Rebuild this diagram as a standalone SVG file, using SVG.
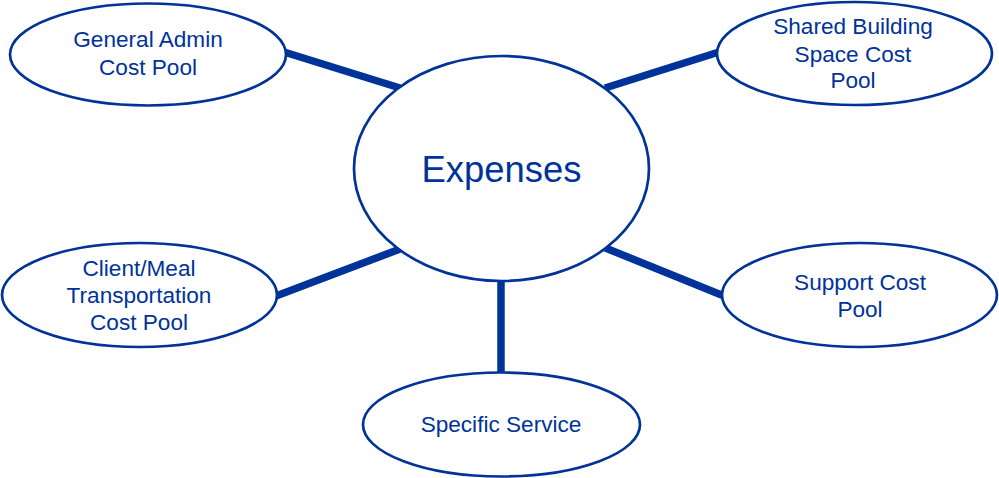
<svg xmlns="http://www.w3.org/2000/svg" width="999" height="478" viewBox="0 0 999 478">
<style>
.node{fill:#fff;stroke:#003399;stroke-width:2.7}
.lbl{font-family:"Liberation Sans",Arial,sans-serif;font-size:22.6px;fill:#003399;text-anchor:middle}
.big{font-size:36.4px}
.conn line{stroke:#003399;stroke-width:7.5}
</style>
<rect width="999" height="478" fill="#fff"/>
<g id="connectors" class="conn">
<line x1="284" y1="52" x2="400" y2="88"/>
<line x1="605" y1="88" x2="719" y2="52"/>
<line x1="276" y1="296" x2="400" y2="249"/>
<line x1="603" y1="247" x2="724" y2="296"/>
<line x1="501" y1="279" x2="501" y2="374"/>
</g>
<g id="expenses">
<ellipse class="node" cx="501.5" cy="168.5" rx="147.5" ry="112.5"/>
<text class="lbl big" x="501.5" y="182">Expenses</text>
</g>
<g id="general-admin">
<ellipse class="node" cx="148" cy="54.5" rx="138" ry="51"/>
<text class="lbl" x="148" y="47">General Admin</text>
<text class="lbl" x="148" y="74.5">Cost Pool</text>
</g>
<g id="shared-building">
<ellipse class="node" cx="854.5" cy="53.5" rx="137.5" ry="51.5"/>
<text class="lbl" x="853" y="33.5">Shared Building</text>
<text class="lbl" x="853" y="61.5">Space Cost</text>
<text class="lbl" x="853" y="88">Pool</text>
</g>
<g id="client-meal">
<ellipse class="node" cx="139.5" cy="295" rx="137.5" ry="52"/>
<text class="lbl" x="139" y="275.5">Client/Meal</text>
<text class="lbl" x="139" y="303">Transportation</text>
<text class="lbl" x="139" y="330">Cost Pool</text>
</g>
<g id="support">
<ellipse class="node" cx="859.5" cy="295" rx="137.5" ry="52"/>
<text class="lbl" x="860" y="289.5">Support Cost</text>
<text class="lbl" x="860" y="317">Pool</text>
</g>
<g id="specific-service">
<ellipse class="node" cx="501.5" cy="424.5" rx="138.5" ry="52"/>
<text class="lbl" x="501" y="432">Specific Service</text>
</g>
</svg>
